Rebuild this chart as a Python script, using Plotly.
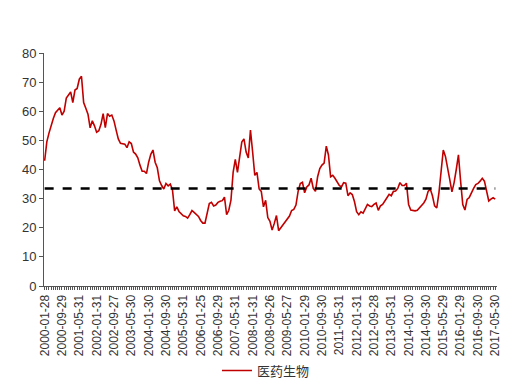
import calendar
import datetime
import plotly.graph_objects as go

# tick labels shown on the x axis (every 8th month)
tick_labels = [
    "2000-01-28", "2000-09-29", "2001-05-31", "2002-01-31", "2002-09-27",
    "2003-05-30", "2004-01-30", "2004-09-30", "2005-05-31", "2006-01-25",
    "2006-09-29", "2007-05-31", "2008-01-31", "2008-09-26", "2009-05-27",
    "2010-01-29", "2010-09-30", "2011-05-31", "2012-01-31", "2012-09-28",
    "2013-05-31", "2014-01-30", "2014-09-30", "2015-05-29", "2016-01-29",
    "2016-09-30", "2017-05-30",
]

# monthly values of 医药生物 (Jan 2000 .. May 2017)
values = [
    43, 49.5, 52.5, 55.5, 57.5, 59.5, 60.5, 61.2, 58.7, 60,
    64.5, 65.5, 66.6, 63, 67.3, 67.8, 71, 72, 63, 61,
    59, 54.3, 56.7, 55, 52.8, 53.3, 55.5, 59.2, 54.4, 59.2,
    58.3, 58.7, 56.7, 53.5, 50.5, 49, 48.8, 48.7, 47.5, 49.5,
    48.9, 46, 45.3, 44, 41.5, 39.4, 39.4, 38.6, 42.5, 45.2,
    46.7, 42.5, 40.6, 36.1, 34.5, 33.3, 35.2, 34.4, 35, 33,
    25.8, 27.2, 25.6, 25, 24.1, 23.9, 23.3, 24.5, 25.9, 25.3,
    24.6, 23.9, 22.5, 21.6, 21.6, 25, 28.3, 28.7, 27.5, 27.8,
    28.7, 29.1, 29.3, 30.5, 24.5, 26, 29.5, 39, 43.5, 39,
    45, 49.4, 50.5, 46, 44, 53.5, 46, 38, 39, 33.3,
    32.5, 27.2, 29.4, 23.5, 22.2, 19.2, 21.5, 24.2, 19, 20,
    21, 22, 23, 24, 25.9, 26.3, 27.8, 32.5, 35.2, 35.6,
    32, 34, 34.7, 37, 33.5, 32.5, 37.5, 40.3, 41.5, 42.2,
    48, 45, 37.5, 38, 37, 35.8, 34.5, 34, 35.5, 35.3,
    31, 32, 31.4, 29, 25.5, 24.5, 25.5, 25, 26.5, 28,
    27.5, 27.3, 28, 28.5, 26, 27.5, 28, 29, 30.3, 31.5,
    31, 32.5, 32.6, 33.5, 35.5, 34.5, 34.5, 35.3, 28, 26.1,
    26, 25.8, 26, 26.8, 27.6, 28.5, 29.8, 32.5, 33.3, 31,
    27.5, 26.8, 32, 39.5, 46.7, 44.5, 41, 36.5, 32.3, 35.5,
    40, 45, 36, 28, 26.1, 29.7, 30.4, 32.2, 33.5, 34.8,
    35.2, 36, 37, 36, 33, 29.2, 29.8, 30.3, 29.8,
]

mean_value = 33.5
series_name = "医药生物"

# category dates: last business day of each month, known labels substituted
dates = []
y, m = 2000, 1
for k in range(len(values)):
    d = calendar.monthrange(y, m)[1]
    dt = datetime.date(y, m, d)
    while dt.weekday() >= 5:
        dt -= datetime.timedelta(days=1)
    dates.append(dt.isoformat())
    m += 1
    if m > 12:
        m, y = 1, y + 1
for j, lab in enumerate(tick_labels):
    dates[j * 8] = lab

ticktext = [d if d in tick_labels else "" for d in dates]

fig = go.Figure()
fig.add_trace(go.Scatter(
    x=dates, y=values, mode="lines", name=series_name,
    line=dict(color="#C00000", width=1.6),
))
fig.add_trace(go.Scatter(
    x=dates, y=[mean_value] * len(dates), mode="lines", showlegend=False,
    line=dict(color="black", width=2.5, dash="dash"),
))

fig.update_layout(
    width=515, height=390,
    margin=dict(l=36, r=26, t=45, b=105),
    paper_bgcolor="white", plot_bgcolor="white",
    font=dict(family="Liberation Sans, Arial, sans-serif", size=13, color="#333333"),
    showlegend=True,
    legend=dict(orientation="h", x=0.49, xanchor="center", y=-0.363, yanchor="middle",
                font=dict(family="Noto Sans CJK SC, sans-serif", size=13, color="#333333")),
)
fig.update_xaxes(
    type="category", range=[-0.3, len(dates) - 0.2],
    tickmode="array", tickvals=dates, ticktext=ticktext,
    tickangle=-90, ticks="outside", ticklen=3, tickcolor="#555555",
    showline=True, linecolor="#555555", linewidth=1, showgrid=False,
    tickfont=dict(size=12, color="#333333"),
)
fig.update_yaxes(
    range=[0, 80], dtick=10, ticks="outside", ticklen=4, tickcolor="#555555",
    showline=True, linecolor="#555555", linewidth=1, showgrid=False, zeroline=False,
    tickfont=dict(size=13, color="#333333"),
)

fig.write_html("out.html")
